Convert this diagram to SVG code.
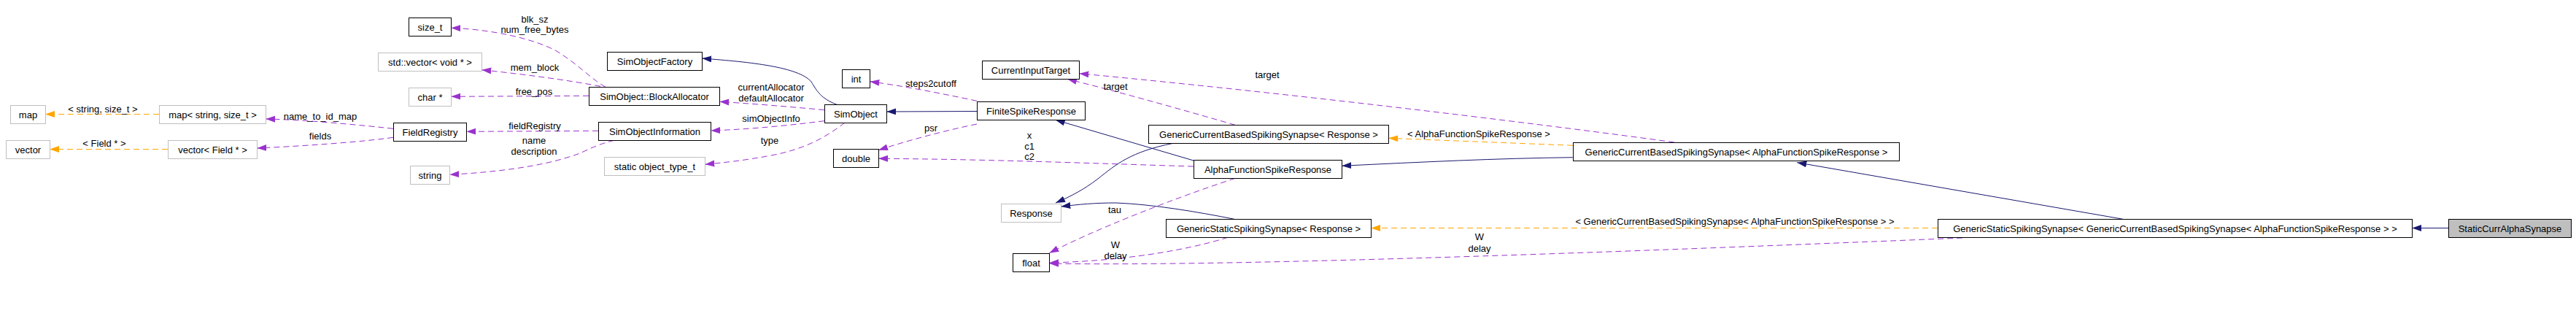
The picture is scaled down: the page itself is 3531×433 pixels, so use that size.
<svg xmlns="http://www.w3.org/2000/svg" width="3531" height="433" viewBox="0 0 3531 433">
<style>
text{font-family:"Liberation Sans",Arial,sans-serif;font-size:13px;fill:#000}
.n text{text-anchor:middle}
.lbl{text-anchor:middle}
rect.b{fill:#fff;stroke:#000;stroke-width:1}
rect.g{fill:#fff;stroke:#bfbfbf;stroke-width:1}
rect.h{fill:#bfbfbf;stroke:#000;stroke-width:1}
.e path{fill:none;stroke-width:1}
.inh{stroke:#191970;marker-end:url(#an)}
.use{stroke:#9a32cd;stroke-dasharray:8,5;marker-end:url(#ap)}
.tpl{stroke:#ffa500;stroke-dasharray:8,5;marker-end:url(#ao)}
</style>
<defs>
<marker id="an" markerUnits="userSpaceOnUse" markerWidth="14" markerHeight="10" refX="13" refY="4.5" orient="auto"><path d="M0,0 L13,4.5 L0,9 z" fill="#191970"/></marker>
<marker id="ap" markerUnits="userSpaceOnUse" markerWidth="14" markerHeight="10" refX="13" refY="4.5" orient="auto"><path d="M0,0 L13,4.5 L0,9 z" fill="#9a32cd"/></marker>
<marker id="ao" markerUnits="userSpaceOnUse" markerWidth="14" markerHeight="10" refX="13" refY="4.5" orient="auto"><path d="M0,0 L13,4.5 L0,9 z" fill="#ffa500"/></marker>
</defs>
<rect width="3531" height="433" fill="#fff"/>
<g id="connectors" class="e">
<path class="tpl" d="M218,156.5 L62,156.5"/>
<path class="tpl" d="M230,204.5 L68,204.5"/>
<path class="tpl" d="M2156,199.3 L1903.3,189.3"/>
<path class="tpl" d="M2656,312.5 L1879.3,312.5"/>
<path class="use" d="M539,176.3 C500,172 420,164 364.3,163"/>
<path class="use" d="M539,188.3 C500,194 420,200 352.3,203"/>
<path class="use" d="M830,119.3 C810,108 795,90 763,70 C730,52 670,40 618.3,38.3"/>
<path class="use" d="M823,118.3 C780,110 720,102 660.3,95.7"/>
<path class="use" d="M807,131.3 L618.3,132.3"/>
<path class="use" d="M820,179.3 L639.3,180.3"/>
<path class="use" d="M842,192.3 C810,200 800,210 780,215 C740,228 680,236 616.3,239.3"/>
<path class="use" d="M1130,150.7 C1080,146 1030,142 986.3,139.3"/>
<path class="use" d="M1130,165.7 C1080,172 1030,177 974.3,179"/>
<path class="use" d="M1158,168 C1130,190 1100,205 1057,213 C1020,220 990,223 966.3,225.3"/>
<path class="use" d="M1339,138.3 C1290,128 1240,118 1192.3,111.7"/>
<path class="use" d="M1339,170 C1290,180 1240,194 1204,205.7"/>
<path class="use" d="M1636,228 C1500,224 1350,218 1204,217.3"/>
<path class="use" d="M2295,195 C2150,175 1800,131 1479.3,100.7"/>
<path class="use" d="M1693,171.3 C1620,150 1530,125 1463,108.3"/>
<path class="use" d="M1693,244.3 C1600,275 1500,315 1438.3,346.7"/>
<path class="use" d="M1683,325.3 C1620,345 1530,358 1438.3,360"/>
<path class="use" d="M2690,326 C2300,342 1700,366 1438.3,361"/>
<path class="inh" d="M1148,143.7 C1125,135 1120,125 1112,112 C1095,92 1030,85 962.3,80"/>
<path class="inh" d="M1339,152.5 L1215.3,153"/>
<path class="inh" d="M1636,220 L1446.7,164.3"/>
<path class="inh" d="M1608,196.3 C1550,208 1530,225 1505,245 C1485,260 1470,268 1447,278"/>
<path class="inh" d="M1692,300.3 C1640,290 1580,280 1530,278 C1500,278 1480,280 1454.3,283"/>
<path class="inh" d="M2155.7,215.7 C2050,217 1950,222 1839.3,227.3"/>
<path class="inh" d="M2910,300.3 L2463.3,222.7"/>
<path class="inh" d="M3356.3,312.5 L3306.3,312.5"/>
<text class="lbl" x="141" y="153.5">&lt; string, size_t &gt;</text>
<text class="lbl" x="143" y="201">&lt; Field * &gt;</text>
<text class="lbl" x="2027" y="188">&lt; AlphaFunctionSpikeResponse &gt;</text>
<text class="lbl" x="2378" y="307.5">&lt; GenericCurrentBasedSpikingSynapse&lt; AlphaFunctionSpikeResponse &gt; &gt;</text>
<text class="lbl" x="439" y="163.5">name_to_id_map</text>
<text class="lbl" x="439" y="191">fields</text>
<text class="lbl" x="733" y="31">blk_sz</text>
<text class="lbl" x="733" y="45">num_free_bytes</text>
<text class="lbl" x="733" y="97">mem_block</text>
<text class="lbl" x="732" y="129.5">free_pos</text>
<text class="lbl" x="733" y="177">fieldRegistry</text>
<text class="lbl" x="732" y="197">name</text>
<text class="lbl" x="732" y="212">description</text>
<text class="lbl" x="1057" y="124">currentAllocator</text>
<text class="lbl" x="1057" y="139">defaultAllocator</text>
<text class="lbl" x="1057" y="167">simObjectInfo</text>
<text class="lbl" x="1055" y="197">type</text>
<text class="lbl" x="1276" y="119">steps2cutoff</text>
<text class="lbl" x="1276" y="179.5">psr</text>
<text class="lbl" x="1411" y="189.5">x</text>
<text class="lbl" x="1411" y="204.5">c1</text>
<text class="lbl" x="1411" y="219">c2</text>
<text class="lbl" x="1737" y="107">target</text>
<text class="lbl" x="1529" y="123">target</text>
<text class="lbl" x="1528" y="292">tau</text>
<text class="lbl" x="1529" y="339.5">W</text>
<text class="lbl" x="1529" y="355">delay</text>
<text class="lbl" x="2028" y="328.5">W</text>
<text class="lbl" x="2028" y="344.5">delay</text>
</g>
<g id="n_map" class="n"><rect class="g" x="14.5" y="144.5" width="48" height="25"/><text x="38.5" y="161.5">map</text></g>
<g id="n_map_string" class="n"><rect class="g" x="218.5" y="144.5" width="146" height="25"/><text x="291.5" y="161.5">map&lt; string, size_t &gt;</text></g>
<g id="n_vector" class="n"><rect class="g" x="8.5" y="192.5" width="60" height="25"/><text x="38.5" y="209.5">vector</text></g>
<g id="n_vector_field" class="n"><rect class="g" x="230.5" y="192.5" width="122" height="25"/><text x="291.5" y="209.5">vector&lt; Field * &gt;</text></g>
<g id="n_fieldregistry" class="n"><rect class="b" x="539.5" y="168.5" width="100" height="25"/><text x="589.5" y="185.5">FieldRegistry</text></g>
<g id="n_size_t" class="n"><rect class="b" x="560.5" y="24.5" width="58" height="25"/><text x="589.5" y="41.5">size_t</text></g>
<g id="n_std_vector" class="n"><rect class="g" x="518.5" y="72.5" width="142" height="25"/><text x="589.5" y="89.5">std::vector&lt; void * &gt;</text></g>
<g id="n_char" class="n"><rect class="g" x="560.5" y="120.5" width="58" height="25"/><text x="589.5" y="137.5">char *</text></g>
<g id="n_string" class="n"><rect class="g" x="562.5" y="227.5" width="54" height="25"/><text x="589.5" y="244.5">string</text></g>
<g id="n_simobjectfactory" class="n"><rect class="b" x="832.5" y="71.5" width="130" height="25"/><text x="897.5" y="88.5">SimObjectFactory</text></g>
<g id="n_blockallocator" class="n"><rect class="b" x="807.5" y="119.5" width="179" height="25"/><text x="897" y="136.5">SimObject::BlockAllocator</text></g>
<g id="n_simobjectinformation" class="n"><rect class="b" x="820.5" y="167.5" width="154" height="25"/><text x="897.5" y="184.5">SimObjectInformation</text></g>
<g id="n_object_type" class="n"><rect class="g" x="828.5" y="215.5" width="138" height="25"/><text x="897.5" y="232.5">static object_type_t</text></g>
<g id="n_simobject" class="n"><rect class="b" x="1130.5" y="143.5" width="85" height="25"/><text x="1173" y="160.5">SimObject</text></g>
<g id="n_int" class="n"><rect class="b" x="1154.5" y="95.5" width="38" height="25"/><text x="1173.5" y="112.5">int</text></g>
<g id="n_double" class="n"><rect class="b" x="1142.5" y="204.5" width="62" height="25"/><text x="1173.5" y="221.5">double</text></g>
<g id="n_finitespikeresponse" class="n"><rect class="b" x="1339.5" y="139.5" width="148" height="25"/><text x="1413.5" y="156.5">FiniteSpikeResponse</text></g>
<g id="n_currentinputtarget" class="n"><rect class="b" x="1346.5" y="83.5" width="133" height="25"/><text x="1413" y="100.5">CurrentInputTarget</text></g>
<g id="n_response" class="n"><rect class="g" x="1372.5" y="279.5" width="82" height="25"/><text x="1413.5" y="296.5">Response</text></g>
<g id="n_float" class="n"><rect class="b" x="1388.5" y="347.5" width="50" height="25"/><text x="1413.5" y="364.5">float</text></g>
<g id="n_gcbss_response" class="n"><rect class="b" x="1574.5" y="171.5" width="329" height="25"/><text x="1739" y="188.5">GenericCurrentBasedSpikingSynapse&lt; Response &gt;</text></g>
<g id="n_alphafunction" class="n"><rect class="b" x="1636.5" y="219.5" width="203" height="25"/><text x="1738" y="236.5">AlphaFunctionSpikeResponse</text></g>
<g id="n_gsss_response" class="n"><rect class="b" x="1598.5" y="300.5" width="281" height="25"/><text x="1739" y="317.5">GenericStaticSpikingSynapse&lt; Response &gt;</text></g>
<g id="n_gcbss_alpha" class="n"><rect class="b" x="2156.5" y="195.5" width="447" height="25"/><text x="2380" y="212.5">GenericCurrentBasedSpikingSynapse&lt; AlphaFunctionSpikeResponse &gt;</text></g>
<g id="n_gsss_gcbss" class="n"><rect class="b" x="2656.5" y="300.5" width="650" height="25"/><text x="2981.5" y="317.5">GenericStaticSpikingSynapse&lt; GenericCurrentBasedSpikingSynapse&lt; AlphaFunctionSpikeResponse &gt; &gt;</text></g>
<g id="n_staticcurralphasynapse" class="n"><rect class="h" x="3356.5" y="300.5" width="168" height="25"/><text x="3440.5" y="317.5">StaticCurrAlphaSynapse</text></g>
</svg>
